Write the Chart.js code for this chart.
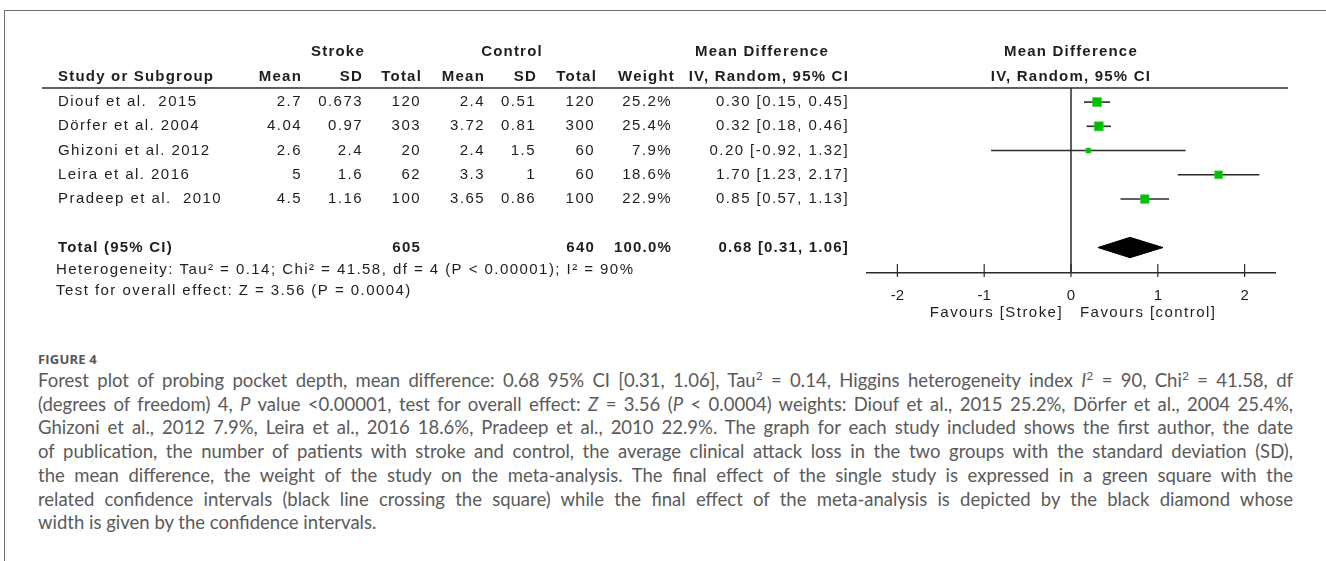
<!DOCTYPE html>
<html lang="en">
<head>
<meta charset="UTF-8">
<title>Figure 4 - Forest plot of probing pocket depth</title>
<script src="https://cdn.jsdelivr.net/npm/chart.js"></script>
<style>
  body { margin: 0; background: #fff; width: 1326px; height: 561px; overflow: hidden; position: relative; }
  #frame { position: absolute; left: 4px; top: 10px; right: 0; bottom: 0; border-top: 1px solid #6e6e6e; border-left: 1px solid #6e6e6e; }
  #forest { position: absolute; left: 0; top: 0; }
  #caption { position: absolute; left: 38px; top: 349px; width: 1255px; font-family: Lato, 'Open Sans', sans-serif; font-weight: 400; color: #5a5a5a; font-size: 16px; line-height: 23.7px; }
  #caption .fig { font-family: 'Open Sans', sans-serif; font-weight: 700; font-size: 13px; line-height: 20px; letter-spacing: 0.2px; color: #555; }
  #caption .ln, #caption .last { text-align: left; white-space: nowrap; }
  #caption.justified .ln { text-align: justify; text-align-last: justify; }
  sup { font-size: 0.65em; line-height: 0; vertical-align: 0.55em; }
</style>
</head>
<body>
<div id="frame"></div>
<canvas id="forest" width="1326" height="335"></canvas>
<div id="caption">
  <div class="fig">FIGURE 4</div>
  <div class="ln"><span>Forest plot of probing pocket depth, mean difference: 0.68 95% CI [0.31, 1.06], Tau<sup>2</sup> = 0.14, Higgins heterogeneity index <i>I</i><sup>2</sup> = 90, Chi<sup>2</sup> = 41.58, df</span></div>
  <div class="ln"><span>(degrees of freedom) 4, <i>P</i> value &lt;0.00001, test for overall effect: <i>Z</i> = 3.56 (<i>P</i> &lt; 0.0004) weights: Diouf et al., 2015 25.2%, Dörfer et al., 2004 25.4%,</span></div>
  <div class="ln"><span>Ghizoni et al., 2012 7.9%, Leira et al., 2016 18.6%, Pradeep et al., 2010 22.9%. The graph for each study included shows the first author, the date</span></div>
  <div class="ln"><span>of publication, the number of patients with stroke and control, the average clinical attack loss in the two groups with the standard deviation (SD),</span></div>
  <div class="ln"><span>the mean difference, the weight of the study on the meta-analysis. The final effect of the single study is expressed in a green square with the</span></div>
  <div class="ln"><span>related confidence intervals (black line crossing the square) while the final effect of the meta-analysis is depicted by the black diamond whose</span></div>
  <div class="last">width is given by the confidence intervals.</div>
</div>

<script>
// data
const studies = ['Diouf et al.  2015', 'Dörfer et al. 2004', 'Ghizoni et al. 2012', 'Leira et al. 2016', 'Pradeep et al.  2010'];
const strokeMean = [2.7, 4.04, 2.6, 5, 4.5];
const strokeSD = [0.673, 0.97, 2.4, 1.6, 1.16];
const strokeTotal = [120, 303, 20, 62, 100];
const controlMean = [2.4, 3.72, 2.4, 3.3, 3.65];
const controlSD = [0.51, 0.81, 1.5, 1, 0.86];
const controlTotal = [120, 300, 60, 60, 100];
const weights = [25.2, 25.4, 7.9, 18.6, 22.9];
const meanDiff = [0.30, 0.32, 0.20, 1.70, 0.85];
const ciLow = [0.15, 0.18, -0.92, 1.23, 0.57];
const ciHigh = [0.45, 0.46, 1.32, 2.17, 1.13];

const totalStroke = 605;
const totalControl = 640;
const totalWeight = 100.0;
const totalMD = 0.68;
const totalLow = 0.31;
const totalHigh = 1.06;

const xTicks = [-2, -1, 0, 1, 2];
const heterogeneity = 'Heterogeneity: Tau² = 0.14; Chi² = 41.58, df = 4 (P < 0.00001); I² = 90%';
const overallTest = 'Test for overall effect: Z = 3.56 (P = 0.0004)';

// layout
const FONT = "'Liberation Sans', Arial, sans-serif";
const yMin = -0.58, yMax = 7.05;   // row scale: 0..4 studies, 6 = total
const totalRow = 6;
const diamondHalf = 0.42;
const col = { study: 58, sMean: 302, sSD: 363, sTotal: 421, cMean: 485, cSD: 536, cTotal: 595, weight: 672, md: 849 };

function fmt2(v) { return v.toFixed(2); }
function ciText(m, lo, hi) { return fmt2(m) + ' [' + fmt2(lo) + ', ' + fmt2(hi) + ']'; }

function txt(ctx, s, x, y, align, bold) {
    ctx.font = (bold ? 'bold ' : '') + '15px ' + FONT;
    ctx.letterSpacing = bold ? '1.2px' : '1.45px';
    ctx.textAlign = align;
    ctx.fillText(s, x, y);
}

const tablePlugin = {
    id: 'forestTable',
    afterDraw(chart) {
        const ctx = chart.ctx;
        const xs = chart.scales.x;
        const ys = chart.scales.y;
        const x0 = xs.getPixelForValue(0);
        const axisY = chart.chartArea.bottom;
        ctx.save();
        ctx.fillStyle = '#1e1e1e';
        ctx.textBaseline = 'middle';

        // headers
        const h1 = ys.getPixelForValue(-2.05), h2 = ys.getPixelForValue(-1.03);
        txt(ctx, 'Stroke', 338, h1, 'center', true);
        txt(ctx, 'Control', 512, h1, 'center', true);
        txt(ctx, 'Mean Difference', 762, h1, 'center', true);
        txt(ctx, 'Mean Difference', x0, h1, 'center', true);
        txt(ctx, 'Study or Subgroup', col.study, h2, 'left', true);
        txt(ctx, 'Mean', col.sMean, h2, 'right', true);
        txt(ctx, 'SD', col.sSD, h2, 'right', true);
        txt(ctx, 'Total', col.sTotal + 1, h2, 'right', true);
        txt(ctx, 'Mean', col.cMean, h2, 'right', true);
        txt(ctx, 'SD', col.cSD + 1, h2, 'right', true);
        txt(ctx, 'Total', col.cTotal + 2, h2, 'right', true);
        txt(ctx, 'Weight', col.weight + 3, h2, 'right', true);
        txt(ctx, 'IV, Random, 95% CI', col.md, h2, 'right', true);
        txt(ctx, 'IV, Random, 95% CI', x0, h2, 'center', true);

        // study rows
        studies.forEach((name, i) => {
            const y = ys.getPixelForValue(i);
            txt(ctx, name, col.study, y, 'left', false);
            txt(ctx, String(strokeMean[i]), col.sMean, y, 'right', false);
            txt(ctx, String(strokeSD[i]), col.sSD, y, 'right', false);
            txt(ctx, String(strokeTotal[i]), col.sTotal, y, 'right', false);
            txt(ctx, String(controlMean[i]), col.cMean, y, 'right', false);
            txt(ctx, String(controlSD[i]), col.cSD, y, 'right', false);
            txt(ctx, String(controlTotal[i]), col.cTotal, y, 'right', false);
            txt(ctx, weights[i].toFixed(1) + '%', col.weight, y, 'right', false);
            txt(ctx, ciText(meanDiff[i], ciLow[i], ciHigh[i]), col.md, y, 'right', false);
        });

        // total row and footnotes
        const ty = ys.getPixelForValue(totalRow);
        txt(ctx, 'Total (95% CI)', col.study, ty, 'left', true);
        txt(ctx, String(totalStroke), col.sTotal, ty, 'right', true);
        txt(ctx, String(totalControl), col.cTotal, ty, 'right', true);
        txt(ctx, totalWeight.toFixed(1) + '%', col.weight, ty, 'right', true);
        txt(ctx, ciText(totalMD, totalLow, totalHigh), col.md, ty, 'right', true);
        txt(ctx, heterogeneity, col.study - 2, ys.getPixelForValue(6.9), 'left', false);
        txt(ctx, overallTest, col.study - 2, ys.getPixelForValue(7.8), 'left', false);

        // favours labels
        txt(ctx, 'Favours [Stroke]', x0 - 8, axisY + 40, 'right', false);
        txt(ctx, 'Favours [control]', x0 + 9, axisY + 40, 'left', false);

        // header rule
        ctx.strokeStyle = '#2a2a2a';
        ctx.lineWidth = 1.5;
        ctx.beginPath();
        ctx.moveTo(42, chart.chartArea.top);
        ctx.lineTo(1288, chart.chartArea.top);
        ctx.stroke();

        // tick marks crossing the axis
        ctx.lineWidth = 1.2;
        xTicks.forEach(v => {
            const px = xs.getPixelForValue(v);
            ctx.beginPath();
            ctx.moveTo(px, axisY - 9);
            ctx.lineTo(px, axisY + 4);
            ctx.stroke();
        });
        ctx.restore();
    }
};

const ciLines = studies.map((s, i) => ({
    type: 'line',
    label: s,
    data: [{ x: ciLow[i], y: i }, { x: ciHigh[i], y: i }],
    borderColor: '#2b2b2b',
    borderWidth: 1.6,
    pointRadius: 0,
    order: 3
}));

new Chart(document.getElementById('forest'), {
    type: 'scatter',
    data: {
        datasets: [
            {
                label: 'Mean difference',
                data: meanDiff.map((m, i) => ({ x: m, y: i })),
                pointStyle: 'rect',
                pointRadius: c => 1.27 * Math.sqrt(weights[c.dataIndex]),
                backgroundColor: '#00bf00',
                borderColor: '#3fcf3f',
                borderWidth: 0.6,
                order: 0
            },
            ...ciLines,
            {
                type: 'line',
                label: 'Total',
                data: [
                    { x: totalLow, y: totalRow },
                    { x: totalMD, y: totalRow - diamondHalf },
                    { x: totalHigh, y: totalRow },
                    { x: totalMD, y: totalRow + diamondHalf },
                    { x: totalLow, y: totalRow }
                ],
                fill: 'shape',
                backgroundColor: '#000',
                borderColor: '#000',
                borderWidth: 1,
                pointRadius: 0,
                order: 1
            },
            {
                type: 'line',
                label: 'No effect',
                data: [{ x: 0, y: yMin }, { x: 0, y: yMax }],
                borderColor: '#2a2a2a',
                borderWidth: 1.5,
                pointRadius: 0,
                order: 4
            }
        ]
    },
    options: {
        responsive: false,
        animation: false,
        devicePixelRatio: 1,
        layout: { padding: { left: 867, right: 51, top: 88, bottom: 34 } },
        plugins: { legend: { display: false }, tooltip: { enabled: false } },
        scales: {
            x: {
                type: 'linear',
                min: -2.35,
                max: 2.35,
                grid: { display: false },
                border: { display: true, color: '#2a2a2a', width: 1.5 },
                afterBuildTicks: s => { s.ticks = xTicks.map(v => ({ value: v })); },
                afterFit: s => { s.height = 28; },
                ticks: {
                    padding: 6,
                    color: '#1e1e1e',
                    font: { family: FONT, size: 15 },
                    callback: v => String(v)
                }
            },
            y: {
                type: 'linear',
                display: false,
                reverse: true,
                min: yMin,
                max: yMax
            }
        }
    },
    plugins: [tablePlugin]
});

// size the caption so the justified lines are only lightly stretched
function fitCaption() {
    const cap = document.getElementById('caption');
    let widest = 0;
    cap.querySelectorAll('.ln span').forEach(s => {
        widest = Math.max(widest, s.getBoundingClientRect().width);
    });
    const size = Math.min(18.5, 16 * 1246 / widest);
    cap.style.fontSize = size.toFixed(2) + 'px';
    cap.classList.add('justified');
}
fitCaption();
</script>
</body>
</html>
